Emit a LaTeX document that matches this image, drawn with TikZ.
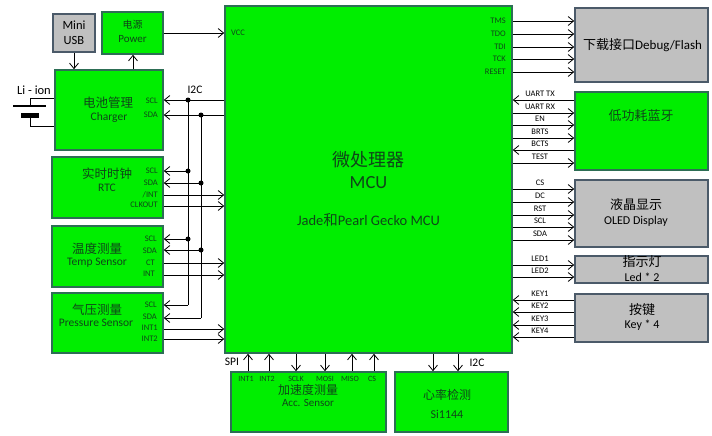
\documentclass[tikz,border=0pt]{standalone}
\usepackage{fontspec}
\setmainfont{Carlito}
\newfontfamily\cjk{Noto Sans CJK SC}
\usetikzlibrary{arrows.meta}
\definecolor{gfill}{RGB}{0,238,0}
\definecolor{gline}{RGB}{45,110,85}
\definecolor{yfill}{RGB}{192,192,192}
\definecolor{yline}{RGB}{75,90,105}
\definecolor{gtext}{RGB}{15,70,25}
\newcommand{\fs}[1]{\fontsize{#1}{#1}\selectfont}
\tikzset{
  gbox/.style={draw=gline, fill=gfill, line width=1.6pt, inner sep=0pt},
  ybox/.style={draw=yline, fill=yfill, line width=1.6pt, inner sep=0pt},
  arr/.style={-{Straight Barb[length=5.5pt,width=9pt]}, line width=0.8pt},
  wire/.style={line width=0.8pt},
  pinl/.style={font=\fs{8.5}, text=gtext, inner sep=0pt, anchor=east},
  pinr/.style={font=\fs{8.5}, text=gtext, inner sep=0pt, anchor=east},
  extl/.style={font=\fs{8.5}, text=black, inner sep=0pt},
  ttl/.style={font=\cjk\fs{12.5}, text=gtext, inner sep=0pt},
  sub/.style={font=\fs{11.5}, text=gtext, inner sep=0pt},
  yttl/.style={font=\cjk\fs{13}, text=black, inner sep=0pt},
  ysub/.style={font=\fs{12}, text=black, inner sep=0pt},
  dot/.style={circle, fill=black, inner sep=0pt, minimum size=5pt},
}
\begin{document}
\begin{tikzpicture}[x=1pt,y=-1pt]
\useasboundingbox (0,0) rectangle (712,436);
\fill[white] (0,0) rectangle (712,436);
% boxes
\node[gbox, minimum width=287pt, minimum height=347pt] (mcu) at (368.5,179.5) {};
\node[ybox, minimum width=42pt, minimum height=38pt] (usb) at (74,33) {};
\node[gbox, minimum width=61pt, minimum height=42pt] (pwr) at (132.5,33) {};
\node[gbox, minimum width=108pt, minimum height=80pt] (chg) at (109,110) {};
\node[gbox, minimum width=111pt, minimum height=61pt] (rtc) at (107.5,187.5) {};
\node[gbox, minimum width=111pt, minimum height=61pt] (tmp) at (107.5,256.5) {};
\node[gbox, minimum width=111pt, minimum height=60pt] (prs) at (107.5,323) {};
\node[ybox, minimum width=133pt, minimum height=74pt] (dbg) at (641.5,45) {};
\node[gbox, minimum width=133pt, minimum height=78pt] (ble) at (641.5,131) {};
\node[ybox, minimum width=133pt, minimum height=67pt] (oled) at (641.5,213.5) {};
\node[ybox, minimum width=133pt, minimum height=27pt] (led) at (641.5,269.5) {};
\node[ybox, minimum width=133pt, minimum height=48pt] (key) at (641.5,318) {};
\node[gbox, minimum width=155pt, minimum height=60pt] (acc) at (308.5,402) {};
\node[gbox, minimum width=113pt, minimum height=60pt] (hrt) at (451.5,402) {};

% texts in boxes
\node[font=\cjk\fs{18}, text=gtext, inner sep=0pt] (mcut1) at (368.5,160) {微处理器};
\node[font=\fs{18.5}, text=gtext, inner sep=0pt] (mcut2) at (368.5,183) {MCU};
\node[font=\fs{14.5}, text=gtext, inner sep=0pt] (mcut3) at (368.5,220) {Jade{\cjk 和}Pearl Gecko MCU};
\node[font=\fs{12.5}, text=black, inner sep=0pt] (usbt1) at (74,25) {Mini};
\node[font=\fs{12.5}, text=black, inner sep=0pt] (usbt2) at (74,40) {USB};
\node[font=\cjk\fs{10}, text=gtext, inner sep=0pt] (pwrt1) at (132.5,25) {电源};
\node[font=\fs{11}, text=gtext, inner sep=0pt] (pwrt2) at (132.5,39) {Power};
\node[ttl] (chgt1) at (108,103) {电池管理};
\node[sub] (chgt2) at (109,117) {Charger};
\node[ttl] (rtct1) at (107,174) {实时时钟};
\node[sub] (rtct2) at (107,188) {RTC};
\node[ttl] (tmpt1) at (97,249) {温度测量};
\node[sub] (tmpt2) at (97,263) {Temp Sensor};
\node[ttl] (prst1) at (97,310) {气压测量};
\node[sub] (prst2) at (96,323) {Pressure Sensor};
\node[font=\fs{13}, text=black, inner sep=0pt, anchor=west] (dbgt) at (583,45) {{\cjk 下载接口}Debug/Flash};
\node[font=\cjk\fs{13}, text=gtext, inner sep=0pt] (blet) at (641,116) {低功耗蓝牙};
\node[yttl] (oledt1) at (636,205) {液晶显示};
\node[ysub] (oledt2) at (636,221) {OLED Display};
\node[yttl] (ledt1) at (642,262) {指示灯};
\node[ysub] (ledt2) at (642,277) {Led * 2};
\node[yttl] (keyt1) at (642,310) {按键};
\node[ysub] (keyt2) at (642,325) {Key * 4};
\node[font=\cjk\fs{12}, text=gtext, inner sep=0pt] (acct1) at (308,390) {加速度测量};
\node[font=\fs{11}, text=gtext, inner sep=0pt] (acct2) at (308,403) {Acc. Sensor};
\node[font=\cjk\fs{12}, text=gtext, inner sep=0pt] (hrtt1) at (447,395) {心率检测};
\node[font=\fs{12}, text=gtext, inner sep=0pt] (hrtt2) at (447,414) {Si1144};

% battery
\node[font=\fs{12.5}, inner sep=0pt] (liion) at (34,90) {Li - ion};
\coordinate (bp1) at (30,106);
\coordinate (bp2) at (30,115);
\draw[line width=1.5pt] (13,106) -- (46,106);
\fill (21,113) rectangle (39,118);
\draw[wire] (bp1) -- (30,98) -- (chg.west |- 0,98);
\draw[wire] (bp2) -- (30,126) -- (chg.west |- 0,126);

% top-left arrows
\draw[arr] (usb.south) -- (usb.south |- chg.north);
\draw[arr] (chg.north -| 133,0) -- (pwr.south -| 133,0);
\draw[arr] (pwr.east) -- (mcu.west |- pwr.east);
\node[pinl, anchor=west] (vcc) at (231,33) {VCC};

% I2C bus
\coordinate (b1a) at (188,100);
\coordinate (b2a) at (201,115);
\coordinate (b1b) at (188,171);
\coordinate (b2b) at (201,183);
\coordinate (b1c) at (188,239);
\coordinate (b2c) at (201,250);
\coordinate (b1d) at (188,305);
\coordinate (b2d) at (201,318);
\draw[wire] (b1a) -- (b1d);
\draw[wire] (b2a) -- (b2d);
\node[font=\fs{11.5}, inner sep=0pt] (i2cl) at (195,90) {I2C};
\draw[arr] (mcu.west |- b1a) -- (chg.east |- b1a);
\draw[arr] (mcu.west |- b2a) -- (chg.east |- b2a);
\draw[arr] (b1b) -- (rtc.east |- b1b);
\draw[arr] (b2b) -- (rtc.east |- b2b);
\draw[arr] (b1c) -- (tmp.east |- b1c);
\draw[arr] (b2c) -- (tmp.east |- b2c);
\draw[arr] (b1d) -- (prs.east |- b1d);
\draw[arr] (b2d) -- (prs.east |- b2d);
\foreach \c in {b1a,b2a,b1b,b2b,b1c,b2c} \node[dot] at (\c) {};
\draw[arr] (rtc.east |- 0,195) -- (mcu.west |- 0,195);
\draw[arr] (rtc.east |- 0,206) -- (mcu.west |- 0,206);
\draw[arr] (tmp.east |- 0,263) -- (mcu.west |- 0,263);
\draw[arr] (tmp.east |- 0,275) -- (mcu.west |- 0,275);
\draw[arr] (prs.east |- 0,329) -- (mcu.west |- 0,329);
\draw[arr] (prs.east |- 0,339) -- (mcu.west |- 0,339);
% left pin labels
\node[pinl] (l1) at (158,101) {SCL};
\node[pinl] (l2) at (158,115) {SDA};
\node[pinl] (l3) at (158,171) {SCL};
\node[pinl] (l4) at (158,183) {SDA};
\node[pinl] (l5) at (158,195) {/INT};
\node[pinl] (l6) at (158,205) {CLKOUT};
\node[pinl] (l7) at (157,239) {SCL};
\node[pinl] (l8) at (157,251) {SDA};
\node[pinl] (l9) at (155,263) {CT};
\node[pinl] (l10) at (155,274) {INT};
\node[pinl] (l11) at (157,305) {SCL};
\node[pinl] (l12) at (157,317) {SDA};
\node[pinl] (l13) at (158,328) {INT1};
\node[pinl] (l14) at (158,339) {INT2};

% debug
\foreach \y/\t in {21/TMS,34/TDO,47/TDI,59/TCK,72/RESET} {
  \draw[arr] (mcu.east |- 0,\y) -- (dbg.west |- 0,\y);
  \node[pinr] at (506,\y) {\t};
}
% bluetooth
\draw[arr] (ble.west |- 0,100) -- (mcu.east |- 0,100);
\draw[arr] (mcu.east |- 0,113) -- (ble.west |- 0,113);
\draw[arr] (mcu.east |- 0,125) -- (ble.west |- 0,125);
\draw[arr] (mcu.east |- 0,138) -- (ble.west |- 0,138);
\draw[arr] (ble.west |- 0,150) -- (mcu.east |- 0,150);
\draw[arr] (mcu.east |- 0,163) -- (ble.west |- 0,163);
\foreach \y/\t in {100/UART TX,113/UART RX,125/EN,138/BRTS,150/BCTS,163/TEST}
  \node[extl] at (540,\y-6) {\t};
% OLED
\foreach \y/\t in {189/CS,202/DC,215/RST,227/SCL,240/SDA} {
  \draw[arr] (mcu.east |- 0,\y) -- (oled.west |- 0,\y);
  \node[extl] at (540,\y-6) {\t};
}
% LED
\foreach \y/\t in {265/LED1,277/LED2} {
  \draw[arr] (mcu.east |- 0,\y) -- (led.west |- 0,\y);
  \node[extl] at (540,\y-6) {\t};
}
% KEY
\foreach \y/\t in {300/KEY1,312/KEY2,325/KEY3,337/KEY4} {
  \draw[arr] (key.west |- 0,\y) -- (mcu.east |- 0,\y);
  \node[extl] at (540,\y-6) {\t};
}
% bottom
\node[font=\fs{11.5}, inner sep=0pt] (spil) at (232,362) {SPI};
\foreach \x/\t in {248/INT1,269/INT2,352/MISO,374/CS} {
  \draw[arr] (acc.north -| \x,0) -- (mcu.south -| \x,0);
  \node[font=\fs{8}, text=gtext, inner sep=0pt] at (\x-2,379) {\t};
}
\foreach \x/\t in {296/SCLK,325/MOSI} {
  \draw[arr] (mcu.south -| \x,0) -- (acc.north -| \x,0);
  \node[font=\fs{8}, text=gtext, inner sep=0pt] at (\x,379) {\t};
}
\draw[arr] (mcu.south -| 433,0) -- (hrt.north -| 433,0);
\draw[arr] (mcu.south -| 458,0) -- (hrt.north -| 458,0);
\node[font=\fs{11.5}, inner sep=0pt] (i2cb) at (477,363) {I2C};
\end{tikzpicture}
\end{document}
